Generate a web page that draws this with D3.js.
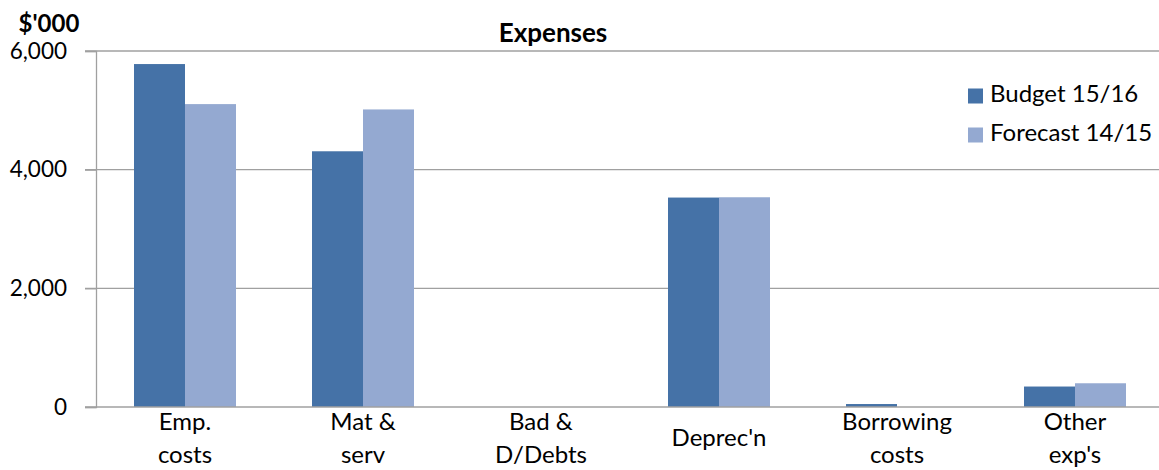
<!DOCTYPE html>
<html>
<head>
<meta charset="utf-8">
<script src="https://cdn.jsdelivr.net/npm/d3@7"></script>
<style>
  body { margin: 0; background: #fff; }
  text { font-family: Lato, "Open Sans", sans-serif; fill: #000; }
</style>
</head>
<body>
<div id="chart"></div>
<script>
// chart values
const categories = [["Emp.", "costs"], ["Mat &", "serv"], ["Bad &", "D/Debts"], ["Deprec'n"], ["Borrowing", "costs"], ["Other", "exp's"]];
const seriesNames = ["Budget 15/16", "Forecast 14/15"];
const budget = [5780, 4310, 0, 3530, 50, 345];
const forecast = [5105, 5015, 0, 3535, 0, 400];
const yTicks = [0, 2000, 4000, 6000];

const width = 1159, height = 470;
const colors = ["#4572a7", "#94a9d1"];

let svg = d3.select("#chart")
    .append("svg")
    .attr("width", width)
    .attr("height", height);

let keys = categories.map(function(c) { return c.join(" "); });

let x = d3.scaleBand()
    .domain(keys)
    .range([96, 1164])
    .paddingInner(0)
    .paddingOuter(0);

let y = d3.scaleLinear()
    .domain([0, 6000])
    .range([407, 51]);

let groupWidth = x.bandwidth() * 0.573;
let x1 = d3.scaleBand()
    .domain([0, 1])
    .range([0, groupWidth]);

// gridlines
svg.append("g")
    .selectAll("line")
    .data(yTicks.filter(function(d) { return d > 0; }))
    .enter()
    .append("line")
    .attr("x1", 85)
    .attr("x2", width)
    .attr("y1", function(d) { return y(d); })
    .attr("y2", function(d) { return y(d); })
    .attr("stroke", "#a0a0a0")
    .attr("stroke-width", 1.3);

// bars
let rows = keys.map(function(k, i) { return {key: k, values: [budget[i], forecast[i]]}; });

let groups = svg.append("g")
    .selectAll("g")
    .data(rows)
    .enter()
    .append("g")
    .attr("transform", function(d) { return `translate(${x(d.key) + (x.bandwidth() - groupWidth) / 2}, 0)`; });

groups.selectAll("rect")
    .data(function(d) { return d.values; })
    .enter()
    .append("rect")
    .attr("x", function(d, i) { return x1(i); })
    .attr("width", x1.bandwidth())
    .attr("y", function(d) { return y(d); })
    .attr("height", function(d) { return y(0) - y(d); })
    .attr("fill", function(d, i) { return colors[i]; });

// y axis
let yAxis = svg.append("g")
    .attr("transform", "translate(96, 0)")
    .call(d3.axisLeft(y).tickValues(yTicks).tickSize(11).tickPadding(18).tickFormat(d3.format(",")));
yAxis.select(".domain").attr("stroke", "#a0a0a0").attr("stroke-width", 1.3);
yAxis.selectAll(".tick line").attr("stroke", "#a0a0a0").attr("stroke-width", 1.3);
yAxis.selectAll(".tick text").style("font-size", "22.5px").attr("fill", "#000");

// x axis line
svg.append("line")
    .attr("x1", 85)
    .attr("x2", width)
    .attr("y1", y(0))
    .attr("y2", y(0))
    .attr("stroke", "#a0a0a0")
    .attr("stroke-width", 1.3);

// category labels
let labels = svg.append("g")
    .selectAll("text")
    .data(categories)
    .enter()
    .append("text")
    .attr("x", function(d, i) { return x(keys[i]) + x.bandwidth() / 2; })
    .attr("y", 0)
    .style("text-anchor", "middle")
    .style("font-size", "24px");

labels.selectAll("tspan")
    .data(function(d) { return d; })
    .enter()
    .append("tspan")
    .attr("x", function() { return this.parentNode.getAttribute("x"); })
    .attr("y", function(d, i, nodes) {
        let n = nodes.length;
        return 446 + (i - (n - 1) / 2) * 33;
    })
    .text(function(d) { return d; });

// titles
svg.append("text")
    .attr("x", 553)
    .attr("y", 42)
    .style("text-anchor", "middle")
    .style("font-size", "26px")
    .style("font-weight", "bold")
    .text("Expenses");

svg.append("text")
    .attr("x", 49)
    .attr("y", 32)
    .style("text-anchor", "middle")
    .style("font-size", "24px")
    .style("font-weight", "bold")
    .text("$'000");

// legend
let legend = svg.append("g")
    .selectAll("g")
    .data(seriesNames)
    .enter()
    .append("g")
    .attr("transform", function(d, i) { return `translate(968, ${96 + i * 39})`; });

legend.append("rect")
    .attr("x", 0)
    .attr("y", -7.5)
    .attr("width", 15)
    .attr("height", 15)
    .attr("fill", function(d, i) { return colors[i]; });

legend.append("text")
    .attr("x", 22)
    .attr("y", 6)
    .style("font-size", "24px")
    .text(function(d) { return d; });
</script>
</body>
</html>
